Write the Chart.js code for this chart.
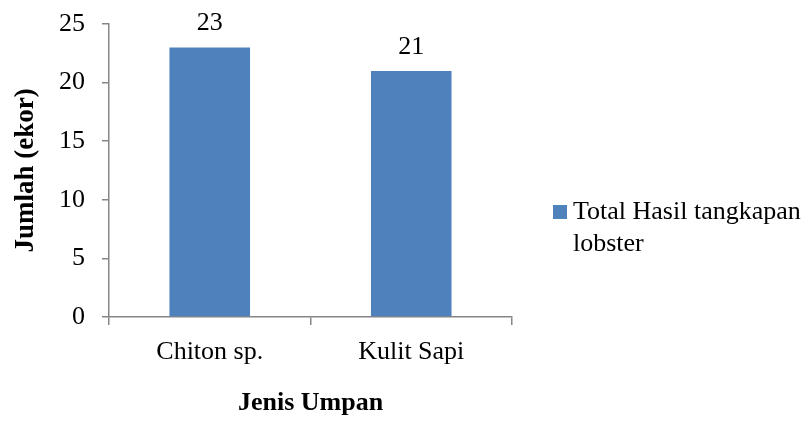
<!DOCTYPE html>
<html>
<head>
<meta charset="utf-8">
<script src="https://cdn.jsdelivr.net/npm/chart.js@4/dist/chart.umd.min.js"></script>
<style>
  html, body { margin: 0; padding: 0; background: #fff; }
  #wrap { width: 808px; height: 423px; }
</style>
</head>
<body>
<div id="wrap"><canvas id="chart" width="808" height="423"></canvas></div>
<script>
const categories = ['Chiton sp.', 'Kulit Sapi']
const totalCatch = [23, 21]
const seriesName = ['Total Hasil tangkapan', 'lobster']
const yTicks = [0, 5, 10, 15, 20, 25]

const serif = '"Liberation Serif", "Times New Roman", serif'
const axisGray = '#868686'
const barBlue = '#4F81BD'

// values above each bar
const valueLabels = {
    id: 'valueLabels',
    afterDatasetsDraw(chart) {
        const ctx = chart.ctx
        const meta = chart.getDatasetMeta(0)
        ctx.save()
        ctx.font = '26px ' + serif
        ctx.fillStyle = '#000'
        ctx.textAlign = 'center'
        ctx.textBaseline = 'alphabetic'
        meta.data.forEach((bar, i) => {
            ctx.fillText(String(totalCatch[i]), bar.x, bar.y - 17)
        })
        ctx.restore()
    }
}

// legend on the right, wrapped on two lines
const sideLegend = {
    id: 'sideLegend',
    afterDraw(chart) {
        const ctx = chart.ctx
        const x = chart.chartArea.right + 41
        const y = 219
        ctx.save()
        ctx.fillStyle = chart.data.datasets[0].backgroundColor
        ctx.fillRect(x, y - 14, 14, 14)
        ctx.font = '26px ' + serif
        ctx.fillStyle = '#000'
        ctx.textAlign = 'left'
        ctx.textBaseline = 'alphabetic'
        seriesName.forEach((line, i) => ctx.fillText(line, x + 20, y + i * 32))
        ctx.restore()
    }
}

new Chart(document.getElementById('chart'), {
    type: 'bar',
    data: {
        labels: categories,
        datasets: [{
            label: seriesName.join(' '),
            data: totalCatch,
            backgroundColor: barBlue,
            barPercentage: 0.4,
            categoryPercentage: 1
        }]
    },
    options: {
        responsive: false,
        animation: false,
        layout: { padding: { left: 0, top: 24, right: 296, bottom: 0 } },
        plugins: {
            legend: { display: false },
            tooltip: { enabled: false }
        },
        scales: {
            x: {
                afterFit: s => { s.height = 106 },
                border: { color: axisGray, width: 1.5 },
                grid: { display: true, drawOnChartArea: false, drawTicks: true, tickLength: 8, color: axisGray, lineWidth: 1.5 },
                ticks: { color: '#000', font: { family: serif, size: 26 }, padding: 12 },
                title: {
                    display: true, text: 'Jenis Umpan', color: '#000',
                    font: { family: serif, size: 26, weight: 'bold' },
                    padding: { top: 0, bottom: 4 }
                }
            },
            y: {
                min: 0, max: 25,
                afterFit: s => {
                    s.width = 109
                    s.paddingTop = 0
                    s.paddingBottom = 0
                },
                afterBuildTicks: s => { s.ticks = yTicks.map(v => ({ value: v })) },
                border: { color: axisGray, width: 1.5 },
                grid: { display: true, drawOnChartArea: false, drawTicks: true, tickLength: 7, color: axisGray, lineWidth: 1.5 },
                ticks: { color: '#000', font: { family: serif, size: 26 }, padding: 17 },
                title: {
                    display: true, text: 'Jumlah (ekor)', color: '#000',
                    font: { family: serif, size: 27, weight: 'bold' },
                    padding: { top: 10, bottom: 0 }
                }
            }
        }
    },
    plugins: [valueLabels, sideLegend]
})
</script>
</body>
</html>
